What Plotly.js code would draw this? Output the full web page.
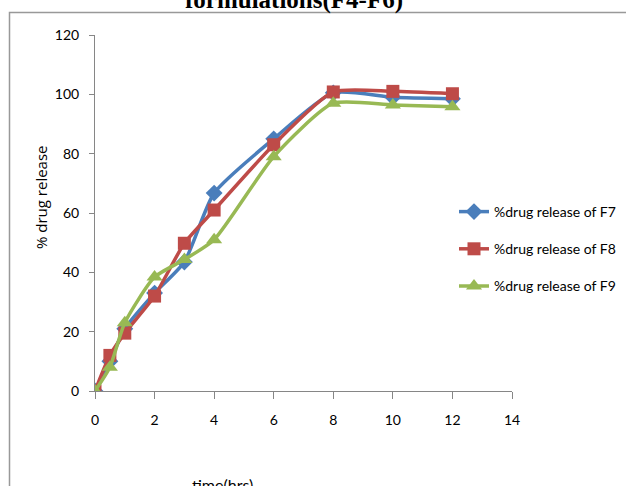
<!DOCTYPE html>
<html>
<head>
<meta charset="utf-8">
<script src="https://cdn.plot.ly/plotly-3.0.1.min.js"></script>
<style>html,body{margin:0;padding:0;background:#fff;}#chart{width:626px;height:486px;}</style>
</head>
<body>
<div id="chart"></div>
<script>
var timeHrs = [0, 0.5, 1, 2, 3, 4, 6, 8, 10, 12];
var releaseF7 = [0, 10, 21, 33, 43.5, 66.7, 85, 100.5, 99, 98.5];
var releaseF8 = [0, 12, 19.5, 32, 49.8, 61, 83, 100.8, 101, 100.2];
var releaseF9 = [0, 8, 23, 38.4, 44.3, 51, 79, 97, 96.4, 95.8];
var seriesNames = ["%drug release of F7", "%drug release of F8", "%drug release of F9"];
var xTicks = [0, 2, 4, 6, 8, 10, 12, 14];
var yTicks = [0, 20, 40, 60, 80, 100, 120];

var tickFont = {family: "Lato, Open Sans, sans-serif", size: 14, color: "#000"};

function mk(y, name, color, symbol, size, g) {
  return {
    x: timeHrs, y: y, name: name, type: "scatter", mode: "lines+markers",
    legendgroup: g,
    line: {color: color, width: 3.5, shape: "spline", smoothing: 0.6},
    marker: {color: color, symbol: symbol, size: size}
  };
}
var data = [
  mk(releaseF7, seriesNames[0], "#4A7EBB", "diamond", 13, "a"),
  mk(releaseF8, seriesNames[1], "#BE4B48", "square", 13, "b"),
  mk(releaseF9, seriesNames[2], "#98B954", "triangle-up", 14, "c")
];

var L = 95, R = 512, T = 35, B = 391;
function px(x) { return (x - L) / (R - L); }
function py(y) { return (B - y) / (B - T); }

var layout = {
  width: 626, height: 486,
  margin: {l: L, r: 626 - R, t: T, b: 486 - B, autoexpand: false},
  paper_bgcolor: "#fff", plot_bgcolor: "#fff",
  showlegend: true,
  legend: {
    x: px(454), y: py(196), xanchor: "left", yanchor: "top",
    font: tickFont, tracegroupgap: 16, bgcolor: "rgba(0,0,0,0)"
  },
  xaxis: {
    range: [0, 14], tickvals: xTicks, ticktext: xTicks.map(String),
    showgrid: false, zeroline: false, showline: true, linecolor: "#868686", linewidth: 1,
    ticks: "outside", ticklen: 7, tickcolor: "#868686", tickfont: tickFont,
    ticklabelstandoff: 9
  },
  yaxis: {
    range: [0, 120], tickvals: yTicks, ticktext: yTicks.map(String),
    showgrid: false, zeroline: false, showline: true, linecolor: "#868686", linewidth: 1,
    ticks: "outside", ticklen: 5, tickcolor: "#868686", tickfont: tickFont,
    ticklabelstandoff: 7
  },
  shapes: [{
    type: "rect", xref: "paper", yref: "paper",
    x0: px(9.5), x1: px(700), y0: py(600), y1: py(12.5),
    line: {color: "#999", width: 1.5}, fillcolor: "rgba(0,0,0,0)", layer: "below"
  }],
  annotations: [
    {text: "formulations(F4-F6)", xref: "paper", yref: "paper", x: px(294), y: py(0),
     xanchor: "center", yanchor: "middle", showarrow: false,
     font: {family: "Liberation Serif, Times New Roman, serif", size: 25, color: "#000", weight: "bold"}},
    {text: "% drug release", xref: "paper", yref: "paper", x: px(41), y: py(197),
     xanchor: "center", yanchor: "middle", textangle: -90, showarrow: false,
     font: {family: "Open Sans, sans-serif", size: 15, color: "#000"}},
    {text: "time(hrs)", xref: "paper", yref: "paper", x: px(222), y: py(484),
     xanchor: "center", yanchor: "middle", showarrow: false,
     font: {family: "Lato, Open Sans, sans-serif", size: 16, color: "#000"}}
  ]
};

Plotly.newPlot("chart", data, layout, {displayModeBar: false, staticPlot: true});
</script>
</body>
</html>
